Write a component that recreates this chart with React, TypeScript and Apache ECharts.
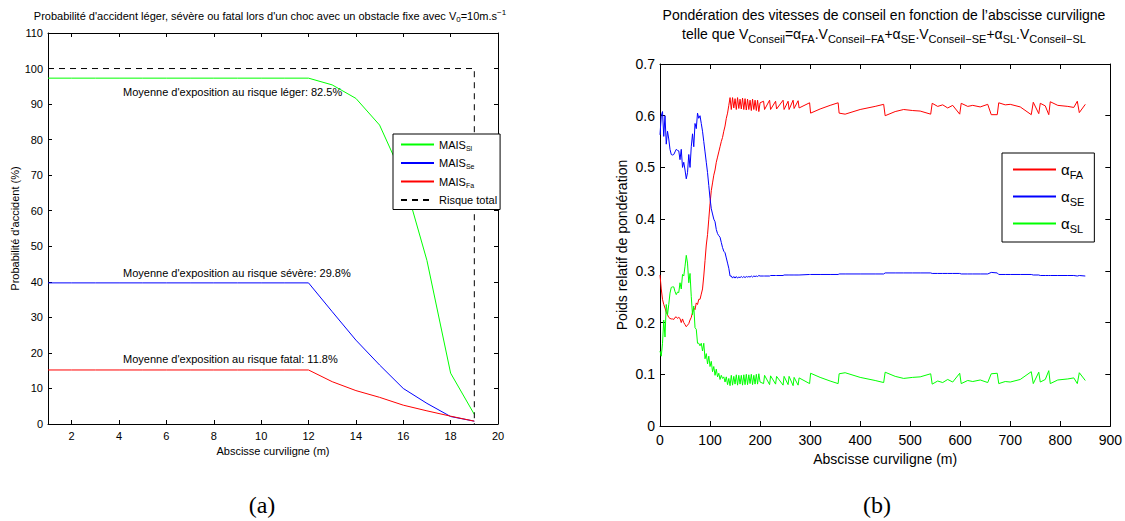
import React, { useEffect, useRef } from "react";
import * as echarts from "echarts";

const FONT = "Liberation Sans, Arial, Helvetica, sans-serif";
const SERIF = "Liberation Serif, DejaVu Serif, serif";

// ---------- Chart (a) ----------
const leftX = [1, 2, 3, 4, 5, 6, 7, 8, 9, 10, 11, 12, 13, 14, 15, 16, 17, 18, 19];
const maisSl = [97.3, 97.3, 97.3, 97.3, 97.3, 97.3, 97.3, 97.3, 97.3, 97.3, 97.3, 97.3, 95.4, 91.6, 84.1, 69.4, 46.0, 14.3, 2.7];
const maisSe = [39.7, 39.7, 39.7, 39.7, 39.7, 39.7, 39.7, 39.7, 39.7, 39.7, 39.7, 39.7, 31.6, 23.6, 16.6, 10.0, 5.8, 2.1, 0.8];
const maisFa = [15.2, 15.2, 15.2, 15.2, 15.2, 15.2, 15.2, 15.2, 15.2, 15.2, 15.2, 15.2, 11.9, 9.4, 7.5, 5.3, 3.7, 2.2, 0.8];
const riskX = [1, 19, 19];
const riskY = [100, 100, 0];
const leftTicks = [2, 4, 6, 8, 10, 12, 14, 16, 18, 20];
const annotations = [
  { text: "Moyenne d'exposition au risque léger: 82.5%", y: 92 },
  { text: "Moyenne d'exposition au risque sévère: 29.8%", y: 273 },
  { text: "Moyenne d'exposition au risque fatal: 11.8%", y: 359 },
];

// ---------- Chart (b) ----------
const xs = [
  0, 2.5, 5, 7.5, 10, 12.5, 15, 17.5, 20, 22.5, 25, 27.5, 30, 32.5, 35, 37.5, 40, 42.5, 45, 47.5,
  50, 52.5, 55, 57.5, 60, 62.5, 65, 67.5, 70, 72.5, 75, 77.5, 80, 82.5, 85, 87.5, 90, 92.5, 95, 97.5,
  100, 102.5, 105, 107.5, 110, 112.5, 115, 117.5, 120, 122.5, 125, 127.5, 130, 132.5, 135, 137.5, 140,
  142.5, 145, 147.5, 150, 152.5, 155, 157.5, 160, 162.5, 165, 167.5, 170, 172.5, 175, 177.5, 180,
  182.5, 185, 187.5, 190, 192.5, 195, 197.5, 200,
  207, 209, 219, 221, 231, 233, 246, 248, 256, 258, 266, 268, 276, 278, 299, 301, 320, 340, 356, 358,
  370, 400, 430, 447, 450, 470, 487, 505, 520, 541, 544, 555, 565, 575, 585, 599, 602, 615, 625, 640,
  655, 662, 674, 677, 690, 700, 720, 742, 746, 757, 760, 770, 777, 780, 795, 815, 827, 834, 838, 850,
];
const alphaFA = [
  0.292, 0.265, 0.245, 0.235, 0.228, 0.22, 0.215, 0.21, 0.208, 0.207, 0.207, 0.206, 0.21, 0.211, 0.208, 0.21, 0.208, 0.2, 0.207, 0.2,
  0.196, 0.192, 0.195, 0.198, 0.205, 0.21, 0.22, 0.228, 0.225, 0.238, 0.235, 0.245, 0.245, 0.255, 0.265, 0.29, 0.32, 0.35, 0.37, 0.4,
  0.43, 0.455, 0.47, 0.485, 0.495, 0.51, 0.52, 0.53, 0.54, 0.55, 0.558, 0.57, 0.58, 0.595, 0.605, 0.62, 0.635,
  0.612, 0.635, 0.615, 0.633, 0.612, 0.635, 0.614, 0.632, 0.613, 0.634, 0.612, 0.633, 0.611, 0.632, 0.612, 0.63,
  0.61, 0.632, 0.612, 0.63, 0.61, 0.63, 0.608, 0.625,
  0.628, 0.612, 0.63, 0.612, 0.628, 0.613, 0.63, 0.612, 0.628, 0.612, 0.63, 0.614, 0.629, 0.615, 0.625, 0.605, 0.613, 0.62, 0.625, 0.605,
  0.603, 0.612, 0.618, 0.622, 0.6, 0.608, 0.612, 0.61, 0.609, 0.603, 0.624, 0.618, 0.621, 0.615, 0.62, 0.603, 0.624, 0.618, 0.62, 0.617,
  0.622, 0.602, 0.602, 0.625, 0.621, 0.622, 0.617, 0.602, 0.626, 0.604, 0.624, 0.619, 0.602, 0.627, 0.62, 0.618, 0.616, 0.628, 0.606, 0.622,
];
const alphaSE = [
  0.563, 0.6, 0.608, 0.56, 0.6, 0.545, 0.57, 0.555, 0.535, 0.525, 0.524, 0.525, 0.53, 0.535, 0.533, 0.532, 0.515, 0.535, 0.5, 0.51,
  0.495, 0.478, 0.49, 0.525, 0.5, 0.54, 0.565, 0.54, 0.585, 0.575, 0.605, 0.595, 0.6, 0.585, 0.57, 0.55, 0.53, 0.51, 0.49, 0.465,
  0.44, 0.42, 0.41, 0.4, 0.395, 0.38, 0.372, 0.368, 0.365, 0.355, 0.345, 0.338, 0.335, 0.325, 0.315, 0.305, 0.29,
  0.29, 0.286, 0.289, 0.286, 0.289, 0.286, 0.288, 0.287, 0.289, 0.287, 0.289, 0.287, 0.289, 0.288, 0.289, 0.288,
  0.29, 0.288, 0.29, 0.289, 0.29, 0.289, 0.291, 0.29,
  0.29, 0.29, 0.29, 0.291, 0.291, 0.291, 0.291, 0.292, 0.292, 0.292, 0.292, 0.292, 0.292, 0.292, 0.293, 0.293, 0.293, 0.293, 0.293, 0.294,
  0.294, 0.294, 0.294, 0.294, 0.296, 0.296, 0.296, 0.296, 0.296, 0.296, 0.295, 0.295, 0.295, 0.295, 0.295, 0.295, 0.294, 0.294, 0.294, 0.294,
  0.294, 0.297, 0.296, 0.293, 0.293, 0.293, 0.293, 0.293, 0.292, 0.292, 0.291, 0.291, 0.291, 0.291, 0.291, 0.291, 0.291, 0.29, 0.291, 0.29,
];
const alphaSL = [
  0.145, 0.135, 0.16, 0.205, 0.172, 0.235, 0.215, 0.235, 0.257, 0.268, 0.269, 0.269, 0.26, 0.254, 0.259, 0.258, 0.277, 0.265, 0.293, 0.29,
  0.309, 0.33, 0.315, 0.277, 0.295, 0.25, 0.215, 0.232, 0.19, 0.187, 0.16, 0.16, 0.155, 0.16, 0.145, 0.16, 0.13, 0.14, 0.12, 0.135,
  0.115, 0.125, 0.105, 0.115, 0.098, 0.11, 0.095, 0.102, 0.09, 0.098, 0.092, 0.095, 0.085, 0.095, 0.08, 0.092, 0.078,
  0.098, 0.079, 0.096, 0.081, 0.099, 0.079, 0.098, 0.081, 0.098, 0.079, 0.099, 0.08, 0.1, 0.08, 0.099, 0.082,
  0.1, 0.08, 0.098, 0.081, 0.1, 0.081, 0.101, 0.085,
  0.082, 0.098, 0.08, 0.097, 0.081, 0.096, 0.079, 0.096, 0.08, 0.096, 0.078, 0.094, 0.079, 0.093, 0.082, 0.102, 0.094, 0.087, 0.082, 0.101,
  0.103, 0.094, 0.088, 0.084, 0.104, 0.096, 0.092, 0.094, 0.095, 0.101, 0.081, 0.087, 0.084, 0.09, 0.085, 0.102, 0.082, 0.088, 0.086, 0.089,
  0.084, 0.101, 0.102, 0.082, 0.086, 0.085, 0.09, 0.105, 0.082, 0.104, 0.085, 0.09, 0.107, 0.082, 0.089, 0.091, 0.093, 0.082, 0.103, 0.088,
];

const zip = (x: number[], y: number[]) => x.map((v, i) => [v, y[i]]);

const legendFormatter = (name: string) => {
  const [a, b] = name.split("_");
  return b ? `{m|${a}}{s|${b}}` : `{m|${a}}`;
};

export default function App() {
  const ref = useRef<HTMLDivElement>(null);

  useEffect(() => {
    if (!ref.current) return;
    const chart = echarts.init(ref.current, undefined, { renderer: "svg" });

    const black = "#000";
    const smallRich = {
      s: { fontSize: 8, padding: [7, 0, 0, 0], fontFamily: FONT, color: black },
      p: { fontSize: 8, padding: [0, 0, 7, 0], fontFamily: FONT, color: black },
    };
    const bigRich = {
      s: { fontSize: 11, padding: [10, 0, 0, 0], fontFamily: FONT, color: black },
    };

    const axisBase = (extra: any) => ({
      type: "value",
      axisLine: { show: true, onZero: false, lineStyle: { color: black, width: 1 } },
      splitLine: { show: false },
      ...extra,
    });

    const option: any = {
      animation: false,
      backgroundColor: "#fff",
      textStyle: { fontFamily: FONT },
      title: [
        {
          text: "Probabilité d'accident léger, sévère ou fatal lors d'un choc avec un obstacle fixe avec V{s|0}=10m.s{p|−1}",
          left: 270,
          top: 8,
          padding: 0,
          textAlign: "center",
          textStyle: { fontSize: 11, fontWeight: "normal", fontFamily: FONT, color: black, rich: smallRich },
        },
        {
          text: "Pondération des vitesses de conseil en fonction de l’abscisse curviligne",
          left: 884,
          top: 8,
          padding: 0,
          textAlign: "center",
          textStyle: { fontSize: 14, fontWeight: "normal", fontFamily: FONT, color: black },
        },
        {
          text: "telle que V{s|Conseil}=α{s|FA}.V{s|Conseil−FA}+α{s|SE}.V{s|Conseil−SE}+α{s|SL}.V{s|Conseil−SL}",
          left: 884,
          top: 23,
          padding: 0,
          textAlign: "center",
          textStyle: { fontSize: 14, fontWeight: "normal", fontFamily: FONT, color: black, rich: bigRich },
        },
      ],
      grid: [
        { left: 48, top: 33, width: 450, height: 391, containLabel: false },
        { left: 660, top: 64, width: 451, height: 362, containLabel: false },
      ],
      xAxis: [
        axisBase({
          gridIndex: 0, min: 1, max: 20, position: "bottom",
          axisTick: { inside: true, length: 4, customValues: leftTicks, lineStyle: { color: black } },
          axisLabel: { customValues: leftTicks, color: black, fontSize: 11, fontFamily: FONT, margin: 6 },
          name: "Abscisse curviligne (m)", nameLocation: "middle", nameGap: 18,
          nameTextStyle: { fontSize: 11, color: black, fontFamily: FONT },
        }),
        axisBase({
          gridIndex: 0, min: 1, max: 20, position: "top",
          axisTick: { inside: true, length: 4, customValues: leftTicks, lineStyle: { color: black } },
          axisLabel: { show: false },
        }),
        axisBase({
          gridIndex: 1, min: 0, max: 900, interval: 100, position: "bottom",
          axisTick: { inside: true, length: 5, lineStyle: { color: black } },
          axisLabel: { color: black, fontSize: 14, fontFamily: FONT, margin: 7 },
          name: "Abscisse curviligne (m)", nameLocation: "middle", nameGap: 25,
          nameTextStyle: { fontSize: 14, color: black, fontFamily: FONT },
        }),
        axisBase({
          gridIndex: 1, min: 0, max: 900, interval: 100, position: "top",
          axisTick: { inside: true, length: 5, lineStyle: { color: black } },
          axisLabel: { show: false },
        }),
      ],
      yAxis: [
        axisBase({
          gridIndex: 0, min: 0, max: 110, interval: 10, position: "left",
          axisTick: { inside: true, length: 4, lineStyle: { color: black } },
          axisLabel: { color: black, fontSize: 11, fontFamily: FONT, margin: 5 },
          name: "Probabilité d'accident (%)", nameLocation: "middle", nameGap: 27,
          nameTextStyle: { fontSize: 11, color: black, fontFamily: FONT },
        }),
        axisBase({
          gridIndex: 0, min: 0, max: 110, interval: 10, position: "right",
          axisTick: { inside: true, length: 4, lineStyle: { color: black } },
          axisLabel: { show: false },
        }),
        axisBase({
          gridIndex: 1, min: 0, max: 0.7, interval: 0.1, position: "left",
          axisTick: { inside: true, length: 5, lineStyle: { color: black } },
          axisLabel: { color: black, fontSize: 14, fontFamily: FONT, margin: 5 },
          name: "Poids relatif de pondération", nameLocation: "middle", nameGap: 31,
          nameTextStyle: { fontSize: 14, color: black, fontFamily: FONT },
        }),
        axisBase({
          gridIndex: 1, min: 0, max: 0.7, interval: 0.1, position: "right",
          axisTick: { inside: true, length: 5, lineStyle: { color: black } },
          axisLabel: { show: false },
        }),
      ],
      legend: [
        {
          orient: "vertical",
          left: 393,
          top: 134,
          backgroundColor: "#fff",
          borderColor: black,
          borderWidth: 1,
          borderRadius: 0,
          padding: [5, 3, 4, 7],
          itemWidth: 33,
          itemHeight: 10,
          itemGap: 6,
          itemStyle: { opacity: 0 },
          data: ["MAIS_Sl", "MAIS_Se", "MAIS_Fa", "Risque total"],
          formatter: legendFormatter,
          textStyle: {
            color: black,
            fontFamily: FONT,
            fontSize: 11,
            rich: {
              m: { fontSize: 11, fontFamily: FONT, color: black },
              s: { fontSize: 7, padding: [7, 0, 0, 0], fontFamily: FONT, color: black },
            },
          },
        },
        {
          orient: "vertical",
          left: 1002,
          top: 153,
          backgroundColor: "#fff",
          borderColor: black,
          borderWidth: 1,
          borderRadius: 0,
          padding: [9, 10, 8, 10],
          itemWidth: 43,
          itemHeight: 14,
          itemGap: 9,
          itemStyle: { opacity: 0 },
          data: ["α_FA", "α_SE", "α_SL"],
          formatter: legendFormatter,
          textStyle: {
            color: black,
            fontFamily: FONT,
            fontSize: 15,
            rich: {
              m: { fontSize: 15, fontFamily: FONT, color: black },
              s: { fontSize: 11, padding: [10, 0, 0, 0], fontFamily: FONT, color: black },
            },
          },
        },
      ],
      series: [
        {
          name: "MAIS_Sl", type: "line", xAxisIndex: 0, yAxisIndex: 0, showSymbol: false, symbol: "none",
          data: zip(leftX, maisSl), lineStyle: { color: "#00ff00", width: 1 }, itemStyle: { color: "#00ff00" },
        },
        {
          name: "MAIS_Se", type: "line", xAxisIndex: 0, yAxisIndex: 0, showSymbol: false, symbol: "none",
          data: zip(leftX, maisSe), lineStyle: { color: "#0000ff", width: 1 }, itemStyle: { color: "#0000ff" },
        },
        {
          name: "MAIS_Fa", type: "line", xAxisIndex: 0, yAxisIndex: 0, showSymbol: false, symbol: "none",
          data: zip(leftX, maisFa), lineStyle: { color: "#ff0000", width: 1 }, itemStyle: { color: "#ff0000" },
        },
        {
          name: "Risque total", type: "line", xAxisIndex: 0, yAxisIndex: 0, showSymbol: false, symbol: "none",
          data: zip(riskX, riskY), lineStyle: { color: black, width: 1, type: [6, 5] }, itemStyle: { color: black },
        },
        {
          name: "α_FA", type: "line", xAxisIndex: 2, yAxisIndex: 2, showSymbol: false, symbol: "none",
          data: zip(xs, alphaFA), lineStyle: { color: "#ff0000", width: 1 }, itemStyle: { color: "#ff0000" },
        },
        {
          name: "α_SE", type: "line", xAxisIndex: 2, yAxisIndex: 2, showSymbol: false, symbol: "none",
          data: zip(xs, alphaSE), lineStyle: { color: "#0000ff", width: 1 }, itemStyle: { color: "#0000ff" },
        },
        {
          name: "α_SL", type: "line", xAxisIndex: 2, yAxisIndex: 2, showSymbol: false, symbol: "none",
          data: zip(xs, alphaSL), lineStyle: { color: "#00ff00", width: 1 }, itemStyle: { color: "#00ff00" },
        },
      ],
      graphic: [
        ...annotations.map((a) => ({
          type: "text",
          x: 123,
          y: a.y,
          style: { text: a.text, fill: black, fontSize: 11, fontFamily: FONT, align: "left", verticalAlign: "middle" },
        })),
        {
          type: "text", x: 262, y: 505,
          style: { text: "(a)", fill: black, fontSize: 24, fontFamily: SERIF, align: "center", verticalAlign: "middle" },
        },
        {
          type: "text", x: 877, y: 505,
          style: { text: "(b)", fill: black, fontSize: 24, fontFamily: SERIF, align: "center", verticalAlign: "middle" },
        },
      ],
    };

    chart.setOption(option);
    return () => chart.dispose();
  }, []);

  return (
    <div
      ref={ref}
      style={{ position: "absolute", left: 0, top: 0, width: 1125, height: 521, background: "#fff" }}
    />
  );
}
